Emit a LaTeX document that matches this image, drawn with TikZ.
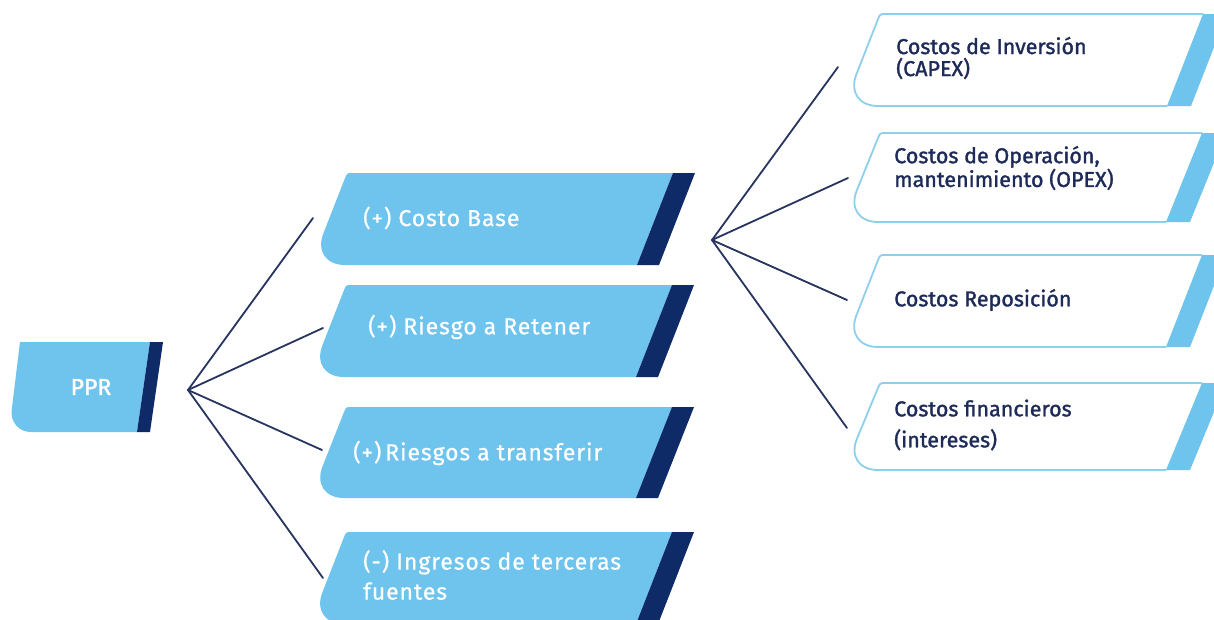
\documentclass[tikz,border=0pt]{standalone}
\usepackage{fontspec}
\setmainfont{Fira Sans}
\newfontfamily\medfont{Fira Sans}[FakeBold=1.4]
\newfontfamily\wfont{Fira Sans}[FakeBold=0.6, LetterSpace=4]
\usetikzlibrary{calc}
\definecolor{lblue}{HTML}{6FC4EE}
\definecolor{navy}{HTML}{0E2A67}
\definecolor{lnavy}{HTML}{26345F}
\definecolor{tnavy}{HTML}{1E2B58}
\definecolor{oblue}{HTML}{8ECFEC}
% shape outline of a slanted box with rounded lower-left corner
\newcommand\myshape[1]{%
  ($(#1-a)!6pt!(#1-d)$) .. controls (#1-a) .. ($(#1-a)!6pt!(#1-b)$) -- (#1-b) -- (#1-c)
  -- ($(#1-d)!34pt!(#1-c)$) .. controls ($(#1-d)!15pt!(#1-c)$) and ($(#1-d)!15pt!(#1-a)$) .. ($(#1-d)!34pt!(#1-a)$) -- cycle}
\newcommand\mycoords[6]{% name, top, bottom, x0, x1, slant
  \coordinate (#1-a) at (#4,#2);
  \coordinate (#1-b) at (#5,#2);
  \coordinate (#1-c) at ({#5-#6},#3);
  \coordinate (#1-d) at ({#4-#6},#3);
}
\newcommand\myfilledbox[7]{% name, top, bottom, x0, x1, slant, band
  \mycoords{#1}{#2}{#3}{#4}{#5}{#6}
  \fill[lblue] \myshape{#1};
  \fill[navy] (#1-b) -- ++(#7,0) -- ($(#1-c)+(#7,0)$) -- (#1-c) -- cycle;
}
\newcommand\myoutlinebox[7]{% name, top, bottom, x0, x1, slant, band
  \mycoords{#1}{#2}{#3}{#4}{#5}{#6}
  \fill[white] \myshape{#1};
  \draw[oblue, line width=1.8pt, line join=round] (#1-b) -- ($(#1-a)!6pt!(#1-b)$) .. controls (#1-a) .. ($(#1-a)!6pt!(#1-d)$)
    -- ($(#1-d)!34pt!(#1-a)$) .. controls ($(#1-d)!15pt!(#1-a)$) and ($(#1-d)!15pt!(#1-c)$) .. ($(#1-d)!34pt!(#1-c)$) -- (#1-c);
  \fill[lblue] (#1-b) -- ++(#7,0) -- ($(#1-c)+(#7,0)$) -- (#1-c) -- cycle;
}
\begin{document}
\begin{tikzpicture}[x=1pt,y=-1pt,
  wtxt/.style={text=white, anchor=west, align=left, inner sep=0pt, font=\wfont\fontsize{23}{30}\selectfont},
  dtxt/.style={text=tnavy, anchor=west, align=left, inner sep=0pt, font=\medfont\fontsize{21.5}{22}\selectfont},
  conn/.style={draw=lnavy, line width=1.8pt, line cap=round}]
\useasboundingbox (0,0) rectangle (1214,619);
\fill[white] (0,0) rectangle (1214,619);
\begin{scope}
\clip (0,0) rectangle (1214,619);
% PPR
\coordinate (ppr-a) at (20,342);
\coordinate (ppr-b) at (150,342);
\coordinate (ppr-c) at (137,432);
\coordinate (ppr-d) at (9,432);
\fill[lblue] (ppr-a) -- (ppr-b) -- (ppr-c) -- ($(ppr-d)!22pt!(ppr-c)$) .. controls ($(ppr-d)!10pt!(ppr-c)$) and ($(ppr-d)!10pt!(ppr-a)$) .. ($(ppr-d)!22pt!(ppr-a)$) -- cycle;
\fill[navy] (ppr-b) -- ++(13,0) -- ($(ppr-c)+(13,0)$) -- (ppr-c) -- cycle;
% left column
\myfilledbox{cb}{173}{265}{347}{673}{36}{22}
\myfilledbox{rr}{285}{377}{346}{672}{36}{22}
\myfilledbox{rt}{407}{498}{346}{672}{36}{22}
\myfilledbox{ing}{532}{624}{346}{672}{36}{22}
% right column
\myoutlinebox{cap}{14}{106}{880}{1203}{36}{24}
\myoutlinebox{opx}{133}{222}{880}{1202}{36}{24}
\myoutlinebox{rep}{255}{347}{880}{1202}{36}{24}
\myoutlinebox{fin}{383}{470}{880}{1202}{36}{24}
\end{scope}
% texts
\node[text=white, inner sep=0pt, font=\medfont\fontsize{23}{24}\selectfont] (ppr) at (91,387) {PPR};
\node[wtxt] (cbt) at (363,218) {(+) Costo Base};
\node[wtxt] (rrt) at (368,327) {(+) Riesgo a Retener};
\node[wtxt] (rtt) at (353,453) {(+)\,Riesgos a transferir};
\node[wtxt] (ingt) at (363,575) {(-) Ingresos de terceras\\fuentes};
\node[dtxt] (capt) at (896,58) {Costos de Inversión\\(CAPEX)};
\node[dtxt] (opxt) at (894,168) {Costos de Operación,\\mantenimiento (OPEX)};
\node[dtxt] (rept) at (894,300) {Costos Reposición};
\node[dtxt, font=\medfont\fontsize{21.5}{31}\selectfont] (fint) at (894,425) {Costos financieros\\(intereses)};
% connectors
\coordinate (hubL) at (188,390);
\coordinate (hubR) at (712,240);
\coordinate (cb-in) at (313,218);
\coordinate (rr-in) at (323,328);
\coordinate (rt-in) at (322,450);
\coordinate (ing-in) at (323,578);
\coordinate (cap-in) at (838,67);
\coordinate (opx-in) at (848,178);
\coordinate (rep-in) at (847,300);
\coordinate (fin-in) at (847,428);
\foreach \t in {cb,rr,rt,ing} \draw[conn] (hubL) -- (\t-in);
\foreach \t in {cap,opx,rep,fin} \draw[conn] (hubR) -- (\t-in);
\end{tikzpicture}
\end{document}
